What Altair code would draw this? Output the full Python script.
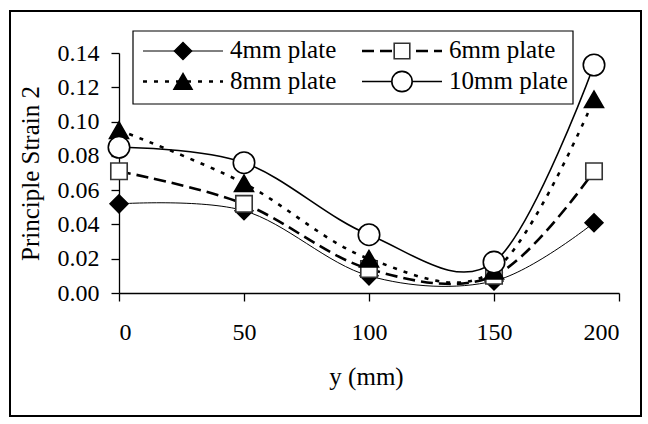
import altair as alt
import pandas as pd

# Distance along the plate (mm) and the measured principal strain for each plate thickness
positions = [0, 50, 100, 150, 190]
series = ["4mm plate", "6mm plate", "8mm plate", "10mm plate"]
strain_4mm = [0.052, 0.048, 0.010, 0.007, 0.041]
strain_6mm = [0.071, 0.052, 0.014, 0.010, 0.071]
strain_8mm = [0.095, 0.064, 0.020, 0.013, 0.113]
strain_10mm = [0.085, 0.076, 0.034, 0.018, 0.133]

x_ticks = [0, 50, 100, 150, 200]
y_ticks = [0.00, 0.02, 0.04, 0.06, 0.08, 0.10, 0.12, 0.14]

FONT = "Liberation Serif"
W, H = 500, 240

values = {
    "4mm plate": strain_4mm,
    "6mm plate": strain_6mm,
    "8mm plate": strain_8mm,
    "10mm plate": strain_10mm,
}
rows = []
for name in series:
    for pos, v in zip(positions, values[name]):
        rows.append({"series": name, "y_mm": pos, "strain": v})
df = pd.DataFrame(rows)

# line and marker styling per series
styles = {
    "4mm plate": dict(dash=None, width=1.0, shape="diamond", size=320, fill="black", stroke="black"),
    "6mm plate": dict(dash=[12, 6], width=2.6, shape="square", size=270, fill="white", stroke="#333333"),
    "8mm plate": dict(dash=[4, 7], width=2.6, shape="triangle-up", size=360, fill="black", stroke="black"),
    "10mm plate": dict(dash=None, width=1.6, shape="circle", size=460, fill="white", stroke="black"),
}

x_enc = alt.X(
    "y_mm:Q",
    scale=alt.Scale(domain=[0, 200], nice=False),
    axis=alt.Axis(
        values=x_ticks, title="y (mm)", grid=False, format="d",
        tickSize=8, labelPadding=19, titleX=247, titleY=91,
        titleBaseline="alphabetic",
    ),
)
y_enc = alt.Y(
    "strain:Q",
    scale=alt.Scale(domain=[0, 0.14], nice=False),
    axis=alt.Axis(
        values=y_ticks, title="Principle Strain 2", grid=False, format=".2f",
        tickSize=8, labelPadding=12, titleX=-81, titleY=120,
        titleBaseline="alphabetic", titleAngle=-90,
    ),
)

base = alt.Chart(df)
layers = []

# frame around the whole figure
layers.append(
    alt.Chart(pd.DataFrame({"k": [0]})).mark_rect(
        fill="white", fillOpacity=0, stroke="black", strokeWidth=2
    ).encode(x=alt.value(-109), x2=alt.value(522), y=alt.value(-42), y2=alt.value(363))
)

for name in series:
    st = styles[name]
    line_kw = dict(interpolate="cardinal", color="black", strokeWidth=st["width"])
    if st["dash"]:
        line_kw["strokeDash"] = st["dash"]
    sub = base.transform_filter(alt.datum.series == name)
    layers.append(sub.mark_line(**line_kw).encode(x=x_enc, y=y_enc))
    layers.append(
        sub.mark_point(
            shape=st["shape"], size=st["size"], filled=True, fill=st["fill"],
            stroke=st["stroke"], strokeWidth=1.6, opacity=1,
        ).encode(x=x_enc, y=y_enc)
    )

# legend box with two columns of entries
LEG_LEFT, LEG_RIGHT, LEG_TOP, LEG_BOTTOM = 14, 454, -22, 51
layers.append(
    alt.Chart(pd.DataFrame({"k": [0]})).mark_rect(
        fill="white", stroke="black", strokeWidth=1.2
    ).encode(x=alt.value(LEG_LEFT), x2=alt.value(LEG_RIGHT),
             y=alt.value(LEG_TOP), y2=alt.value(LEG_BOTTOM))
)
COL_X = [24, 243]
ROW_Y = [-2, 28.5]
SAMPLE_LEN = 80
for i, name in enumerate(series):
    st = styles[name]
    cx = COL_X[i % 2]
    cy = ROW_Y[i // 2]
    one = alt.Chart(pd.DataFrame({"series": [name]}))
    rule_kw = dict(color="black", strokeWidth=st["width"])
    if st["dash"]:
        rule_kw["strokeDash"] = st["dash"]
    layers.append(
        one.mark_rule(**rule_kw).encode(
            x=alt.value(cx), x2=alt.value(cx + SAMPLE_LEN), y=alt.value(cy)
        )
    )
    layers.append(
        one.mark_point(
            shape=st["shape"], size=st["size"] * 0.9, filled=True, fill=st["fill"],
            stroke=st["stroke"], strokeWidth=1.6, opacity=1,
        ).encode(x=alt.value(cx + SAMPLE_LEN / 2), y=alt.value(cy))
    )
    layers.append(
        one.mark_text(
            align="left", baseline="alphabetic", font=FONT, fontSize=25, color="black"
        ).encode(x=alt.value(cx + 87), y=alt.value(cy + 7), text="series:N")
    )

chart = alt.layer(*layers).properties(
    width=W,
    height=H,
    autosize=alt.AutoSizeParams(type="none"),
    padding={"left": 119, "top": 53, "right": 29, "bottom": 131},
    background="white",
).configure_view(stroke=None).configure_axis(
    labelFont=FONT, titleFont=FONT, labelFontSize=24, titleFontSize=25,
    labelColor="black", titleColor="black", titleFontWeight="normal",
    domainColor="black", tickColor="black", domainWidth=1.3, tickWidth=1.3,
)

chart.save("out.html", embed_options={"renderer": "svg", "actions": False})
